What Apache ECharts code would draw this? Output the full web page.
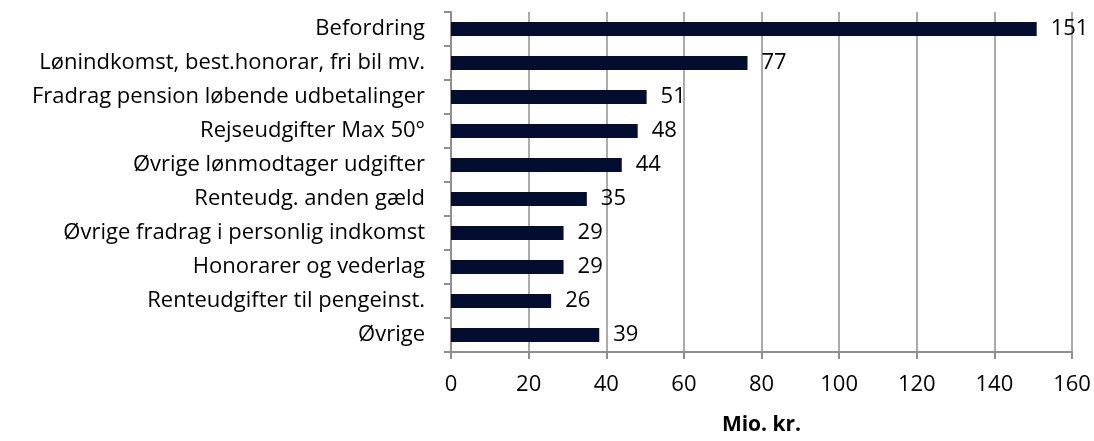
<!DOCTYPE html>
<html>
<head>
<meta charset="utf-8">
<script src="https://cdn.jsdelivr.net/npm/echarts@6/dist/echarts.min.js"></script>
<style>
  html, body { margin: 0; padding: 0; background: #fff; }
  #chart { width: 1094px; height: 441px; }
</style>
</head>
<body>
<div id="chart"></div>
<script>
const categories = [
  'Befordring',
  'Lønindkomst, best.honorar, fri bil mv.',
  'Fradrag pension løbende udbetalinger',
  'Rejseudgifter Max 50°',
  'Øvrige lønmodtager udgifter',
  'Renteudg. anden gæld',
  'Øvrige fradrag i personlig indkomst',
  'Honorarer og vederlag',
  'Renteudgifter til pengeinst.',
  'Øvrige'
]
// bar lengths
const values = [150.9, 76.4, 50.4, 48.1, 44.0, 35.0, 29.0, 29.0, 25.8, 38.2]
// printed value labels
const labels = [151, 77, 51, 48, 44, 35, 29, 29, 26, 39]
const xTicks = { min: 0, max: 160, interval: 20 }

const font = '"Open Sans", sans-serif'
const gray = '#8f8f8f'

const myChart = echarts.init(document.getElementById('chart'))

const options = {
  animation: false,
  grid: { left: 451, right: 22, top: 12, bottom: 83 },
  xAxis: {
    type: 'value',
    min: xTicks.min,
    max: xTicks.max,
    interval: xTicks.interval,
    name: 'Mio. kr.',
    nameLocation: 'middle',
    nameGap: 63,
    nameTextStyle: { fontFamily: font, fontSize: 21, fontWeight: 'bold', color: '#000' },
    axisLine: { show: true, lineStyle: { color: gray, width: 2 } },
    axisTick: { show: true, length: 7, lineStyle: { color: gray, width: 2 } },
    axisLabel: { fontFamily: font, fontSize: 22, color: '#000', margin: 22 },
    splitLine: { show: true, lineStyle: { color: gray, width: 1.5 } }
  },
  yAxis: {
    type: 'category',
    data: categories,
    inverse: true,
    axisLine: { show: true, lineStyle: { color: gray, width: 2 } },
    axisTick: { show: true, length: 7, lineStyle: { color: gray, width: 2 } },
    axisLabel: { fontFamily: font, fontSize: 22, color: '#000', margin: 26 },
    splitLine: { show: false }
  },
  series: [{
    type: 'bar',
    data: values,
    barWidth: 14,
    itemStyle: { color: '#020d30' },
    label: {
      show: true,
      position: 'right',
      distance: 14,
      fontFamily: font,
      fontSize: 22,
      color: '#000',
      formatter: (p) => labels[p.dataIndex]
    }
  }]
}

myChart.setOption(options)
</script>
</body>
</html>
